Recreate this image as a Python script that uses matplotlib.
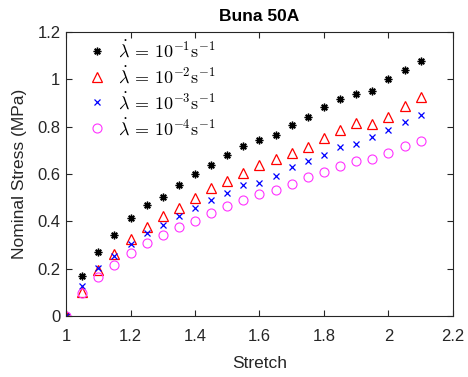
import numpy as np
import matplotlib
matplotlib.use('Agg')
import matplotlib.pyplot as plt

plt.rcParams['font.family'] = ['Liberation Sans', 'DejaVu Sans']
plt.rcParams['mathtext.fontset'] = 'cm'

# stretch values and nominal stress (MPa) for each strain rate
stretch = [1.0, 1.05, 1.1, 1.15, 1.2, 1.25, 1.3, 1.35, 1.4, 1.45, 1.5, 1.55,
           1.6, 1.65, 1.7, 1.75, 1.8, 1.85, 1.9, 1.95, 2.0, 2.05, 2.1]
stress_1 = [0.0, 0.169, 0.269, 0.343, 0.415, 0.470, 0.504, 0.555, 0.600, 0.638, 0.681, 0.718,
            0.744, 0.765, 0.806, 0.841, 0.882, 0.918, 0.938, 0.951, 1.000, 1.038, 1.079]
stress_2 = [0.0, 0.103, 0.194, 0.261, 0.327, 0.377, 0.424, 0.458, 0.497, 0.539, 0.570, 0.603,
            0.638, 0.662, 0.687, 0.715, 0.751, 0.786, 0.817, 0.811, 0.842, 0.887, 0.927]
stress_3 = [0.0, 0.127, 0.203, 0.253, 0.303, 0.352, 0.386, 0.421, 0.456, 0.490, 0.521, 0.553,
            0.563, 0.593, 0.628, 0.656, 0.681, 0.713, 0.728, 0.755, 0.787, 0.818, 0.849]
stress_4 = [0.0, 0.096, 0.166, 0.217, 0.267, 0.307, 0.342, 0.376, 0.403, 0.435, 0.463, 0.489,
            0.517, 0.531, 0.556, 0.589, 0.607, 0.634, 0.654, 0.663, 0.687, 0.718, 0.738]

labels = [r'$\dot{\lambda}\,=\,10^{-1}\mathrm{s}^{-1}$',
          r'$\dot{\lambda}\,=\,10^{-2}\mathrm{s}^{-1}$',
          r'$\dot{\lambda}\,=\,10^{-3}\mathrm{s}^{-1}$',
          r'$\dot{\lambda}\,=\,10^{-4}\mathrm{s}^{-1}$']

fig = plt.figure(figsize=(4.68, 3.77), dpi=100)
ax = fig.add_axes([66/468, 1 - 316/377, (453-66)/468, (316-32)/377])

ax.plot(stretch, stress_1, linestyle='none', marker=(8, 2, 0), color='k',
        markersize=5.5, markeredgewidth=1.0, label=labels[0])
ax.plot(stretch, stress_2, linestyle='none', marker='^', markerfacecolor='none',
        markeredgecolor='r', markersize=7, markeredgewidth=0.9, label=labels[1])
ax.plot(stretch, stress_3, linestyle='none', marker='x', color='b',
        markersize=4.5, markeredgewidth=0.9, label=labels[2])
ax.plot(stretch, stress_4, linestyle='none', marker='o', markerfacecolor='none',
        markeredgecolor='#ff33ff', markersize=6.5, markeredgewidth=0.8, label=labels[3])

ax.set_xlim(1, 2.2)
ax.set_ylim(0, 1.2)
ax.set_xticks([1, 1.2, 1.4, 1.6, 1.8, 2, 2.2])
ax.set_xticklabels(['1', '1.2', '1.4', '1.6', '1.8', '2', '2.2'])
ax.set_yticks([0, 0.2, 0.4, 0.6, 0.8, 1, 1.2])
ax.set_yticklabels(['0', '0.2', '0.4', '0.6', '0.8', '1', '1.2'])
ax.tick_params(direction='in', top=True, right=True, labelsize=12, length=4,
               color='#262626', labelcolor='#262626')
ax.tick_params(axis='x', pad=9.5)
ax.tick_params(axis='y', pad=4)
for s in ax.spines.values():
    s.set_color('#262626')
    s.set_linewidth(0.8)

ax.set_xlabel('Stretch', fontsize=12.5, color='#262626', labelpad=8.5)
ax.set_ylabel('Nominal Stress (MPa)', fontsize=12.5, color='#262626', labelpad=7.5)
ax.set_title('Buna 50A', fontsize=12.5, fontweight='bold', pad=8)

ax.legend(loc='upper left', frameon=False, fontsize=13, handletextpad=0.35,
          handlelength=1.6, labelspacing=0.28, borderaxespad=0.15,
          bbox_to_anchor=(0.018, 1.005))

plt.savefig('out.png', dpi=100)
